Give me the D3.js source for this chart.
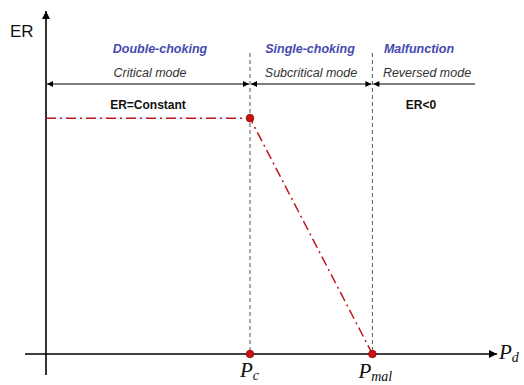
<!DOCTYPE html>
<html><head><meta charset="utf-8">
<script src="https://cdn.jsdelivr.net/npm/d3@7"></script>
<style>body{margin:0;background:#fff}svg{display:block}</style>
</head><body>
<script>
// Data
const pressureKeys = ["origin", "Pc", "Pmal"];
const pressureValues = [0, 0.5, 0.8];
const erValues = [1, 1, 0];
const modeNames = ["Double-choking", "Single-choking", "Malfunction"];
const modeTypes = ["Critical mode", "Subcritical mode", "Reversed mode"];
const erNotes = ["ER=Constant", "", "ER<0"];

const W = 524, H = 385;
const svg = d3.select("body").append("svg").attr("width", W).attr("height", H);
const x = d3.scaleLinear().domain([0, 1.1]).range([46, 494.8]);
const y = d3.scaleLinear().domain([0, 1.45]).range([354, 12]);

const defs = svg.append("defs");
function marker(id, color, w, h) {
  defs.append("marker").attr("id", id).attr("viewBox", "0 0 10 10")
    .attr("refX", 10).attr("refY", 5).attr("markerWidth", w).attr("markerHeight", h)
    .attr("markerUnits", "userSpaceOnUse").attr("orient", "auto-start-reverse")
    .append("path").attr("d", "M0,0L10,5L0,10z").attr("fill", color);
}
marker("axArrow", "#000", 10, 8);
marker("smArrow", "#000", 8, 6);

// axes
svg.append("line").attr("x1", 25).attr("x2", 497).attr("y1", y(0)).attr("y2", y(0))
  .attr("stroke", "#000").attr("stroke-width", 1.6).attr("marker-end", "url(#axArrow)");
svg.append("line").attr("x1", x(0)).attr("x2", x(0)).attr("y1", 375).attr("y2", 11)
  .attr("stroke", "#000").attr("stroke-width", 1.6).attr("marker-end", "url(#axArrow)");

// vertical dashed boundaries
const bounds = pressureValues.slice(1);
svg.selectAll(".vb").data(bounds).enter().append("line")
  .attr("x1", d => x(d)).attr("x2", d => x(d)).attr("y1", 53).attr("y2", y(0))
  .attr("stroke", "#555").attr("stroke-width", 1).attr("stroke-dasharray", "4,3");

// mode range arrows
const rangeY = 84;
const edges = [pressureValues[0], pressureValues[1], pressureValues[2]];
svg.append("line").attr("x1", x(edges[0]) + 1).attr("x2", x(edges[1]) - 1).attr("y1", rangeY).attr("y2", rangeY)
  .attr("stroke", "#555").attr("stroke-width", 1.3)
  .attr("marker-start", "url(#smArrow)").attr("marker-end", "url(#smArrow)");
svg.append("line").attr("x1", x(edges[1]) + 1).attr("x2", x(edges[2]) - 1).attr("y1", rangeY).attr("y2", rangeY)
  .attr("stroke", "#555").attr("stroke-width", 1.3)
  .attr("marker-start", "url(#smArrow)").attr("marker-end", "url(#smArrow)");
svg.append("line").attr("x1", x(edges[2]) + 1).attr("x2", 475).attr("y1", rangeY).attr("y2", rangeY)
  .attr("stroke", "#555").attr("stroke-width", 1.3)
  .attr("marker-start", "url(#smArrow)");

// labels
const nameX = [160, 310, 419], typeX = [150, 311, 427], noteX = [148, 0, 421];
modeNames.forEach((t, i) => {
  svg.append("text").attr("x", nameX[i]).attr("y", 53).attr("text-anchor", "middle")
    .attr("font-family", "Liberation Sans, Arial, sans-serif").attr("font-size", 12.5)
    .attr("font-weight", "bold").attr("font-style", "italic").attr("fill", "#4549b0").text(t);
  svg.append("text").attr("x", typeX[i]).attr("y", 77).attr("text-anchor", "middle")
    .attr("font-family", "Liberation Sans, Arial, sans-serif").attr("font-size", 12.5)
    .attr("font-style", "italic").attr("fill", "#333").text(modeTypes[i]);
  if (erNotes[i]) svg.append("text").attr("x", noteX[i]).attr("y", 109).attr("text-anchor", "middle")
    .attr("font-family", "Liberation Sans, Arial, sans-serif").attr("font-size", 12)
    .attr("font-weight", "bold").attr("fill", "#111").text(erNotes[i]);
});

svg.append("text").attr("x", 10).attr("y", 37).attr("font-family", "Liberation Sans, Arial, sans-serif")
  .attr("font-size", 17).attr("fill", "#111").text("ER");

// ER curve
const pts = pressureValues.map((p, i) => [p, erValues[i]]);
svg.append("path").datum(pts)
  .attr("d", d3.line().x(d => x(d[0])).y(d => y(d[1])))
  .attr("fill", "none").attr("stroke", "#c0141c").attr("stroke-width", 1.5)
  .attr("stroke-dasharray", "10,4,2,4");

// dots
const dots = [[pressureValues[1], erValues[1]], [pressureValues[1], 0], [pressureValues[2], erValues[2]]];
svg.selectAll(".dot").data(dots).enter().append("circle")
  .attr("cx", d => x(d[0])).attr("cy", d => y(d[1])).attr("r", 3.8)
  .attr("fill", "#cc1111").attr("stroke", "#8a0d0d").attr("stroke-width", 0.8);

// math labels
function mathLabel(xp, yp, main, sub) {
  const t = svg.append("text").attr("x", xp).attr("y", yp)
    .attr("font-family", "Liberation Serif, Times New Roman, serif").attr("font-style", "italic")
    .attr("font-size", 21).attr("fill", "#111");
  t.append("tspan").text(main);
  t.append("tspan").attr("font-size", 14).attr("dy", 3).text(sub);
}
mathLabel(499, 359, "P", "d");
mathLabel(x(pressureValues[1]) - 10, 377, "P", "c");
mathLabel(x(pressureValues[2]) - 14, 378, "P", "mal");
</script>
</body></html>
